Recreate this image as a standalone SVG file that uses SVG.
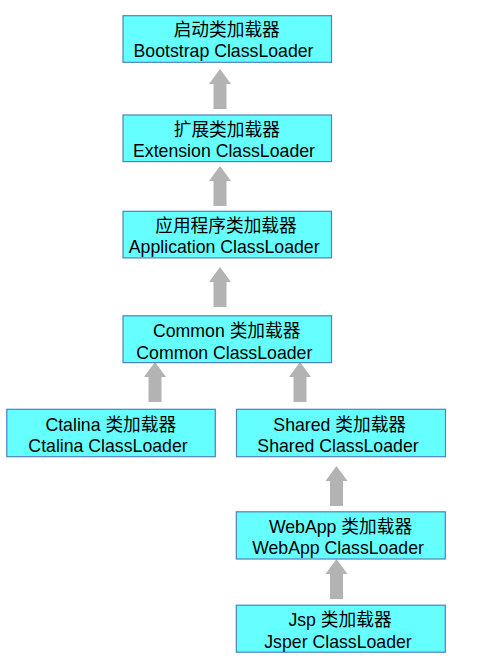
<svg xmlns="http://www.w3.org/2000/svg" width="478" height="666" viewBox="0 0 478 666">
<style>
.box{fill:#66ffff;stroke:#4f81bd;stroke-width:1.2}
.t{font-family:"Liberation Sans","Noto Sans CJK SC",sans-serif;font-size:17.7px;fill:#000;text-anchor:middle}
.arr{fill:#b3b3b3}
</style>
<rect width="478" height="666" fill="#fff"/>
<g id="connectors">
<path class="arr" d="M220,69 L231,84 L226.5,84 L226.5,109 L213.5,109 L213.5,84 L209,84 Z"/>
<path class="arr" d="M220,166 L231,181 L226.5,181 L226.5,206 L213.5,206 L213.5,181 L209,181 Z"/>
<path class="arr" d="M220,267 L231,282 L226.5,282 L226.5,307 L213.5,307 L213.5,282 L209,282 Z"/>
<path class="arr" d="M155,362 L166,377 L161.5,377 L161.5,402 L148.5,402 L148.5,377 L144,377 Z"/>
<path class="arr" d="M300,362 L311,377 L306.5,377 L306.5,402 L293.5,402 L293.5,377 L289,377 Z"/>
<path class="arr" d="M336.5,466 L347.5,481 L343,481 L343,506 L330,506 L330,481 L325.5,481 Z"/>
<path class="arr" d="M336.5,559 L347.5,574 L343,574 L343,599 L330,599 L330,574 L325.5,574 Z"/>
</g>
<g id="bootstrap">
<rect class="box" x="123" y="15.7" width="208.5" height="46.6"/>
<text class="t" x="226.7" y="36">启动类加载器</text>
<text class="t" x="223.5" y="57.3">Bootstrap ClassLoader</text>
</g>
<g id="extension">
<rect class="box" x="123" y="115" width="208.5" height="46.6"/>
<text class="t" x="226.8" y="135.8">扩展类加载器</text>
<text class="t" x="224" y="157">Extension ClassLoader</text>
</g>
<g id="application">
<rect class="box" x="123" y="211.3" width="208.5" height="46.6"/>
<text class="t" x="226" y="232">应用程序类加载器</text>
<text class="t" x="224.2" y="253.3">Application ClassLoader</text>
</g>
<g id="common">
<rect class="box" x="123" y="315.8" width="208.5" height="46.8"/>
<text class="t" x="226.7" y="337">Common 类加载器</text>
<text class="t" x="224.3" y="358.8">Common ClassLoader</text>
</g>
<g id="catalina">
<rect class="box" x="6.8" y="409.3" width="208.5" height="47.4"/>
<text class="t" x="110.8" y="430.6">Ctalina 类加载器</text>
<text class="t" x="108" y="451.7">Ctalina ClassLoader</text>
</g>
<g id="shared">
<rect class="box" x="236.5" y="409.3" width="209" height="47.4"/>
<text class="t" x="339.7" y="430.6">Shared 类加载器</text>
<text class="t" x="338" y="451.7">Shared ClassLoader</text>
</g>
<g id="webapp">
<rect class="box" x="236.3" y="511.8" width="209" height="47.2"/>
<text class="t" x="340.5" y="533">WebApp 类加载器</text>
<text class="t" x="338" y="554.3">WebApp ClassLoader</text>
</g>
<g id="jsp">
<rect class="box" x="236.3" y="605.2" width="209" height="47"/>
<text class="t" x="340" y="626.3">Jsp 类加载器</text>
<text class="t" x="338" y="647.5">Jsper ClassLoader</text>
</g>
</svg>
